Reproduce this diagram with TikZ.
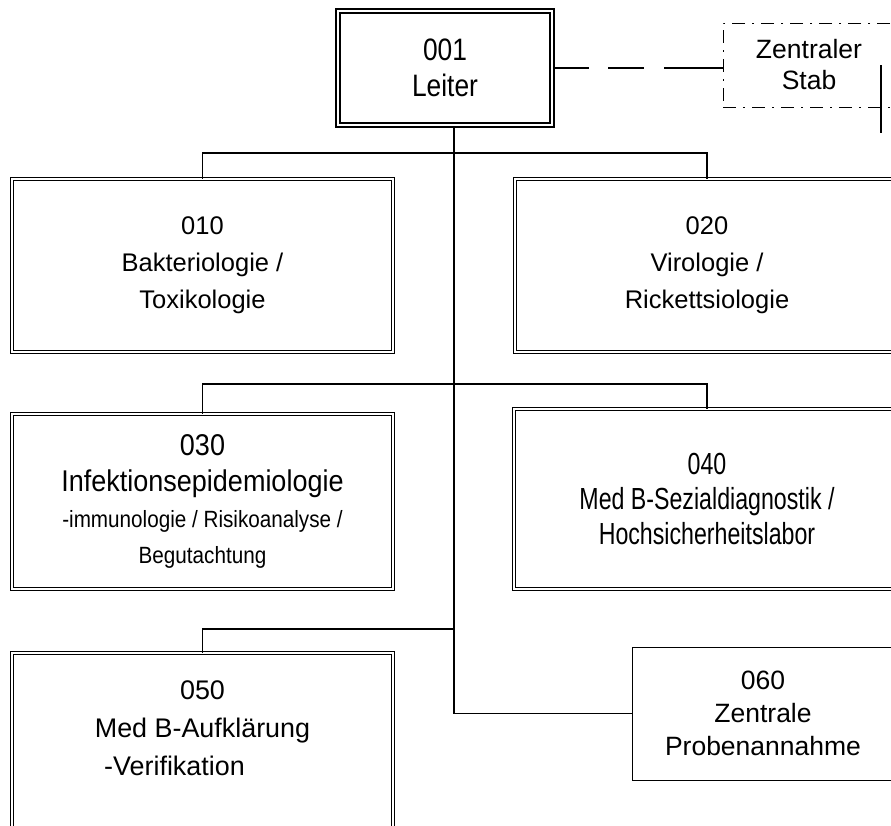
\documentclass[tikz,border=0pt]{standalone}
\usepackage{fontspec}
\setmainfont{Liberation Sans}
\tikzstyle{leitung} = [rectangle, minimum width=214pt, minimum height=114pt, align=center, draw=black, line width=2pt, double=white, double distance=2pt, font=\fontsize{31}{36}\selectfont\addfontfeature{FakeStretch=0.85}]
\tikzstyle{stabsstelle} = [rectangle, minimum width=172pt, minimum height=84pt, align=center, draw=black, line width=0.9pt, dash pattern=on 13pt off 7pt on 2pt off 7pt, font=\fontsize{26.5}{31}\selectfont]
\tikzstyle{abteilung} = [rectangle, minimum width=381pt, minimum height=173pt, align=center, draw=black, line width=1pt, double=white, double distance=2.5pt, font=\fontsize{25.5}{37}\selectfont]
\tikzstyle{stelle} = [rectangle, minimum width=262pt, minimum height=133pt, align=center, draw=black, line width=1pt, font=\fontsize{26.5}{33}\selectfont]
\tikzstyle{linie} = [line width=1.8pt]
\tikzstyle{stablinie} = [line width=2.2pt, dash pattern=on 36pt off 19pt on 36pt off 20pt on 80pt off 1pt]
\newcommand{\kleinschmal}{\fontsize{23.5}{34}\selectfont\addfontfeature{FakeStretch=0.88}}
\begin{document}
\begin{tikzpicture}[x=1pt, y=1pt, node distance=236pt]
	\useasboundingbox (0,0) rectangle (891,-825);

		% Draw the nodes
		\node (leiter) [leitung] at (445,-68) {001\\ Leiter};
		\node (stab) [stabsstelle] at (809,-65) {Zentraler\\ Stab};
		\node (b010) [abteilung] at (202.5,-265.5) {010\\ Bakteriologie /\\ Toxikologie};
		\node (b020) [abteilung, right of=b010, xshift=268.5pt, minimum width=384pt] {020\\ Virologie /\\ Rickettsiologie};
		\node (b030) [abteilung, below of=b010, minimum height=175pt, font=\fontsize{30}{36}\selectfont\addfontfeature{FakeStretch=0.9}] {030\\ Infektionsepidemiologie\\ {\kleinschmal -immunologie / Risikoanalyse /}\\ {\kleinschmal Begutachtung}};
		\node (b040) [abteilung, below of=b020, yshift=2.5pt, minimum width=386pt, minimum height=180pt, font=\fontsize{30.5}{35}\selectfont\addfontfeature{FakeStretch=0.76}] {040\\ Med B-Sezialdiagnostik /\\ Hochsicherheitslabor};
		\node (b050) [abteilung, below of=b030, yshift=-13.5pt, minimum height=196pt, text depth=46pt, font=\fontsize{26.9}{38}\selectfont] {050\\ Med B-Aufklärung\\ -Verifikation\hspace*{56pt}};
		\node (b060) [stelle] at (763,-713.5) {060\\ Zentrale\\ Probenannahme};

		% Draw the lines
		\coordinate (stamm) at ([xshift=9pt]leiter.south);
		\coordinate (k1) at (stamm |- 0,-153);
		\coordinate (k2) at (stamm |- 0,-384);
		\coordinate (k3) at (stamm |- 0,-629);
		\coordinate (s1) at (881,-65);
		\coordinate (s2) at (881,-133);
		\draw [stablinie] (leiter.east) -- (leiter.east -| stab.west);
		\draw [line width=1.2pt] (s1) -- (s2);
		\draw [linie] (stamm) |- (b060.west);
		\draw [linie] (b010.north) |- (k1) -| (b020.north);
		\draw [linie] (b030.north) |- (k2) -| (b040.north);
		\draw [linie] (b050.north) |- (k3);

	\end{tikzpicture}
\end{document}
